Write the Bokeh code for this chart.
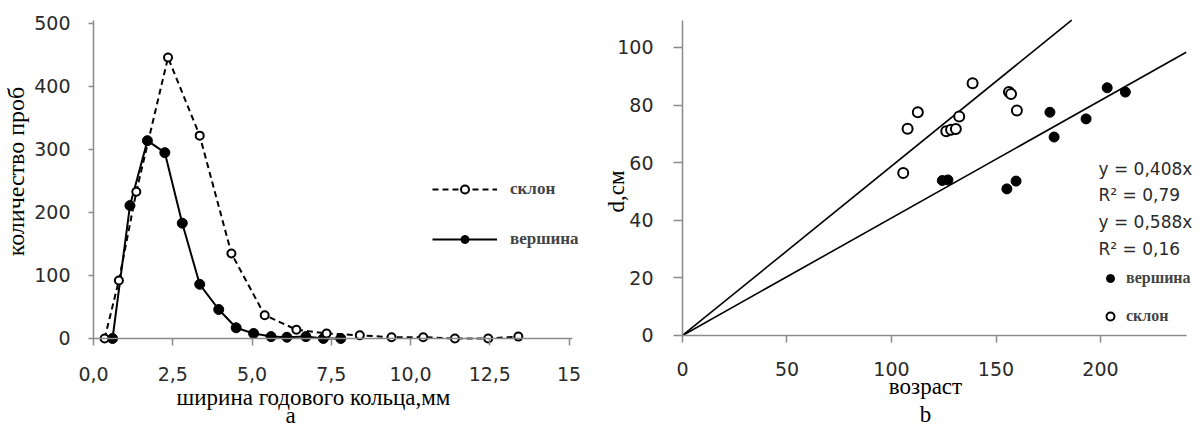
from math import pi
from bokeh.plotting import figure
from bokeh.layouts import row
from bokeh.models import Range1d, Label, Legend, LegendItem, FixedTicker
from bokeh.embed import file_html
from bokeh.resources import INLINE

# ---------------- panel a: distribution of ring widths ----------------
slope_width = [0.35, 0.8, 1.35, 2.35, 3.35, 4.35, 5.4, 6.4, 7.35, 8.4, 9.4, 10.4, 11.4, 12.45, 13.4]
slope_count = [0, 92, 233, 446, 322, 135, 37, 14, 8, 5, 2, 2, 0, 0, 3]
top_width = [0.6, 1.15, 1.7, 2.25, 2.8, 3.35, 3.95, 4.5, 5.05, 5.6, 6.1, 6.7, 7.25, 7.8]
top_count = [0, 211, 314, 295, 183, 86, 46, 17, 8, 3, 2, 3, 0, 0]
a_x_ticks = [0, 2.5, 5, 7.5, 10, 12.5, 15]
a_x_tick_labels = ["0,0", "2,5", "5,0", "7,5", "10,0", "12,5", "15"]
a_y_ticks = [0, 100, 200, 300, 400, 500]
a_x_max, a_y_max = 15.1, 505

# ---------------- panel b: diameter vs age ----------------
slope_age = [105.6, 107.7, 112.6, 126.2, 128.5, 130.8, 132.4, 138.8, 156.2, 157.2, 160.0]
slope_d = [56.4, 71.8, 77.5, 70.9, 71.4, 71.7, 76.0, 87.6, 84.5, 83.8, 78.1]
top_age = [124.3, 127.0, 155.2, 159.6, 175.8, 177.8, 193.1, 203.2, 211.9]
top_d = [53.8, 54.0, 50.9, 53.6, 77.5, 68.9, 75.2, 86.0, 84.5]
top_coef, top_r2 = 0.408, "0,79"
slope_coef, slope_r2 = 0.588, "0,16"
b_x_ticks = [0, 50, 100, 150, 200]
b_y_ticks = [0, 20, 40, 60, 80, 100]
b_x_max, b_y_max = 241, 109.5

AXIS_GREY = "#8a8a8a"
TICK_TXT = "#2a2a2a"
SANS = "DejaVu Sans"
SERIF = "Liberation Serif"
H = 428


def base_fig(width, xr, yr):
    p = figure(width=width, height=H, x_range=Range1d(*xr), y_range=Range1d(*yr),
               output_backend="svg", toolbar_location=None,
               min_border_left=0, min_border_right=0, min_border_top=0, min_border_bottom=0)
    p.xgrid.visible = False
    p.ygrid.visible = False
    p.outline_line_color = None
    for ax in (p.xaxis[0], p.yaxis[0]):
        ax.fixed_location = 0
        ax.axis_line_color = AXIS_GREY
        ax.axis_line_width = 1.5
        ax.major_tick_line_color = AXIS_GREY
        ax.major_tick_line_width = 1.5
        ax.minor_tick_line_color = None
        ax.major_tick_in = 0
        ax.major_label_text_font = SANS
        ax.major_label_text_font_size = "19px"
        ax.major_label_text_color = TICK_TXT
    return p


def text(p, x, y, s, size="23px", font=SERIF, angle=0, align="center", color="black"):
    p.add_layout(Label(x=x, y=y, x_units="screen", y_units="screen", text=s, angle=angle,
                       text_font=font, text_font_size=size, text_color=color,
                       text_align=align, text_baseline="middle"))


# ======== left figure (frame covers the whole canvas; axes sit at 0) ========
p1 = base_fig(592, (-2.934, 15.74), (-142.86, 536.5))
p1.xaxis[0].bounds = (0, a_x_max)
p1.yaxis[0].bounds = (0, a_y_max)
p1.xaxis[0].major_tick_out = 7
p1.yaxis[0].major_tick_out = 5
p1.xaxis[0].major_label_standoff = 22
p1.yaxis[0].major_label_standoff = 18
p1.xaxis[0].ticker = FixedTicker(ticks=a_x_ticks)
p1.xaxis[0].major_label_overrides = {t: l for t, l in zip(a_x_ticks, a_x_tick_labels)}
p1.yaxis[0].ticker = FixedTicker(ticks=a_y_ticks)

l_slope = p1.line(slope_width, slope_count, line_color="black", line_width=2, line_dash="6 4")
l_top = p1.line(top_width, top_count, line_color="black", line_width=2)
s_top = p1.scatter(top_width, top_count, marker="circle", size=10, fill_color="black", line_color="black")
s_slope = p1.scatter(slope_width, slope_count, marker="circle", size=8, fill_color="white",
                     line_color="black", line_width=2)

legend1 = Legend(items=[LegendItem(label="склон", renderers=[l_slope, s_slope]),
                        LegendItem(label="вершина", renderers=[l_top, s_top])],
                 location=(432, 179), glyph_width=65, glyph_height=20, label_height=20,
                 spacing=30, padding=0, margin=0, label_standoff=13,
                 label_text_font=SERIF, label_text_font_style="bold", label_text_font_size="17px",
                 border_line_color=None, background_fill_alpha=0)
p1.add_layout(legend1)

text(p1, 313, H - 397, "ширина годового кольца,мм")
text(p1, 290, H - 415, "а")
text(p1, 15, H - 171, "количество проб", size="24px", angle=pi / 2)

# ======== right figure ========
p2 = base_fig(610, (-43.06, 248.8), (-32.29, 116.3))
p2.xaxis[0].bounds = (0, b_x_max)
p2.yaxis[0].bounds = (0, b_y_max)
p2.xaxis[0].major_tick_out = 7
p2.yaxis[0].major_tick_out = 9
p2.xaxis[0].major_label_standoff = 20
p2.yaxis[0].major_label_standoff = 20
p2.xaxis[0].ticker = FixedTicker(ticks=b_x_ticks)
p2.yaxis[0].ticker = FixedTicker(ticks=b_y_ticks)

for coef in (top_coef, slope_coef):
    x_end = min(b_x_max, b_y_max / coef)
    p2.line([0, x_end], [0, coef * x_end], line_color="black", line_width=1.6)
sb_top = p2.scatter(top_age, top_d, marker="circle", size=10, fill_color="black", line_color="black")
sb_slope = p2.scatter(slope_age, slope_d, marker="circle", size=10, fill_color="white",
                      line_color="black", line_width=2)

legend2 = Legend(items=[LegendItem(label="вершина", renderers=[sb_top]),
                        LegendItem(label="склон", renderers=[sb_slope])],
                 location=(508, 102), glyph_width=20, glyph_height=20, label_height=20,
                 spacing=18, padding=0, margin=0, label_standoff=6,
                 label_text_font=SERIF, label_text_font_style="bold", label_text_font_size="16px",
                 border_line_color=None, background_fill_alpha=0)
p2.add_layout(legend2)

eq_lines = [f"y = {top_coef:.3f}x".replace(".", ","), f"R² = {top_r2}",
            f"y = {slope_coef:.3f}x".replace(".", ","), f"R² = {slope_r2}"]
for s, py in zip(eq_lines, [168, 194, 221, 248]):
    text(p2, 506, H - py, s, size="17px", font=SANS, align="left", color=TICK_TXT)

text(p2, 333, H - 386, "возраст")
text(p2, 333, H - 414, "b")
text(p2, 24, H - 191, "d,см", angle=pi / 2)

layout = row(p1, p2)
open("out.html", "w").write(file_html(layout, INLINE))
